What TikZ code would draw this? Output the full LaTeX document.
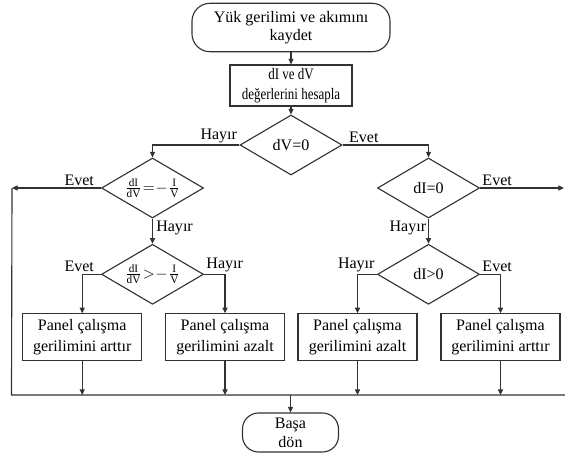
\documentclass[tikz,border=0pt]{standalone}
\usepackage{fontspec}
\setmainfont{Liberation Serif}
\newfontfamily\narrowserif[FakeStretch=0.81]{Liberation Serif}
\usetikzlibrary{positioning,arrows.meta,shapes.geometric}
\definecolor{LineGray}{RGB}{50,50,50}

\begin{document}
\begin{tikzpicture}[x=0.025cm, y=-0.025cm, font=\fontsize{11.4}{12.6}\selectfont, every node/.style={align=center}]
\tikzset{
  term/.style={draw=LineGray, line width=0.8pt, rounded corners=0.45cm, minimum width=4.95cm, minimum height=1.21cm, inner sep=0pt},
  proc/.style={draw=LineGray, line width=0.85pt, minimum width=2.975cm, minimum height=1.17cm, inner sep=0pt, font=\fontsize{11.4}{14.7}\selectfont},
  cond/.style={draw=LineGray, line width=0.8pt, diamond, aspect=1.7, minimum width=2.55cm, minimum height=1.5cm, inner sep=0pt},
  lbl/.style={inner sep=1.5pt},
  link/.style={LineGray, line width=0.8pt},
  arrow/.style={link, -{Triangle[length=4pt,width=3.6pt]}}
}
  \useasboundingbox (0,0) rectangle (565,453);

  % top of the chart
  \node[term] (start) at (291,27.5) {Yük gerilimi ve akımını\\kaydet};
  \node[proc, minimum width=3.05cm, minimum height=1.025cm, font=\narrowserif\fontsize{11.4}{14.2}\selectfont] (calc) at (291,85.5) {dI ve dV\\değerlerini hesapla};
  \node[cond] (dv) at (291,145) {dV=0};

  % decisions
  \node[cond] (fa) at (152.5,188) {$\frac{\mathrm{dI}}{\mathrm{dV}}\mkern1mu{=}\mkern1mu{-}\mkern1mu\frac{\mathrm{I}}{\mathrm{V}}$};
  \node[cond] (fb) at (152.5,274.3) {$\frac{\mathrm{dI}}{\mathrm{dV}}\mkern1mu{>}\mkern1mu{-}\mkern1mu\frac{\mathrm{I}}{\mathrm{V}}$};
  \node[cond] (di) at (428.5,188) {dI=0};
  \node[cond] (dp) at (428.5,274.3) {dI>0};

  % actions
  \node[proc] (up1) at (82.2,337.3) {Panel çalışma\\gerilimini arttır};
  \node[proc] (dn1) at (225,337.3) {Panel çalışma\\gerilimini azalt};
  \node[proc] (dn2) at (357.5,337.3) {Panel çalışma\\gerilimini azalt};
  \node[proc] (up2) at (500.5,337.3) {Panel çalışma\\gerilimini arttır};
  \node[term, minimum width=2.4cm, minimum height=0.975cm, rounded corners=0.4cm, font=\fontsize{11.4}{13.5}\selectfont] (back) at (290.5,432.5) {Başa\\dön};

  \coordinate (lc) at (12,188);
  \coordinate (rc) at (564,188);
  \coordinate (busl) at (11.5,395);
  \coordinate (busr) at (565,395);

  % connectors
  \draw[arrow] (start) -- (calc);
  \draw[arrow] (calc) -- (dv);
  \draw[arrow] (dv.west) -| (fa.north);
  \draw[arrow] (dv.east) -| (di.north);
  \draw[arrow] (fa.west) -- (lc);
  \draw[link] (lc) -- (busl) -- (busr);
  \draw[arrow] (fa.south) -- (fb.north);
  \draw[arrow] (di.east) -- (rc);
  \draw[arrow] (di.south) -- (dp.north);
  \draw[arrow] (fb.west) -| (up1.north);
  \draw[arrow] (fb.east) -| (dn1.north);
  \draw[arrow] (dp.west) -| (dn2.north);
  \draw[arrow] (dp.east) -| (up2.north);
  \foreach \b in {up1,dn1,dn2,up2}
    \draw[arrow] (\b.south) -- (\b.south |- busl);
  \draw[arrow] (back.north |- busl) -- (back.north);

  % branch labels
  \node[lbl, anchor=south east] (n1) at (dv.west) {Hayır};
  \node[lbl, anchor=south west, xshift=3pt] (y1) at (dv.east) {Evet};
  \node[lbl, anchor=south east, xshift=-3.3pt] (y2) at (fa.west) {Evet};
  \node[lbl, anchor=north west, xshift=1pt] (n2) at (fa.south) {Hayır};
  \node[lbl, anchor=south east, xshift=-3.3pt] (y3) at (fb.west) {Evet};
  \node[lbl, anchor=south west] (n3) at (fb.east) {Hayır};
  \node[lbl, anchor=south west] (y4) at (di.east) {Evet};
  \node[lbl, anchor=north east] (n4) at (di.south) {Hayır};
  \node[lbl, anchor=south east] (n5) at (dp.west) {Hayır};
  \node[lbl, anchor=south west] (y5) at (dp.east) {Evet};
\end{tikzpicture}
\end{document}
